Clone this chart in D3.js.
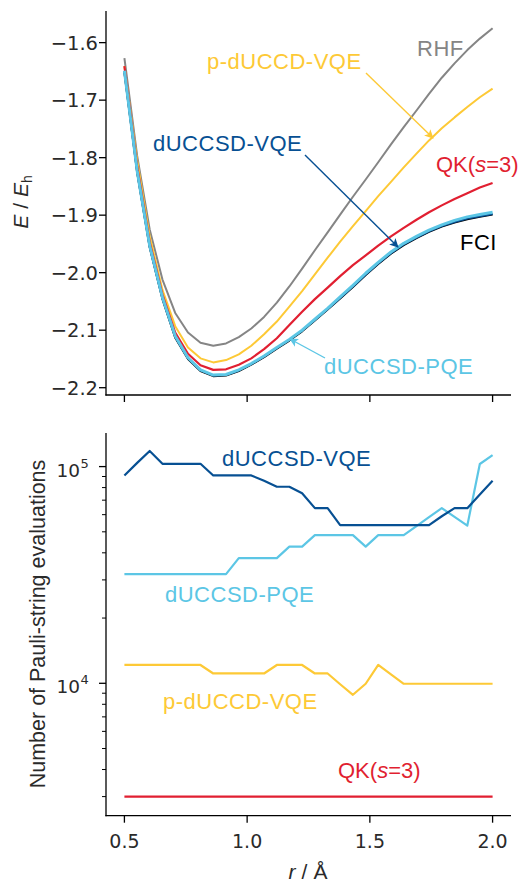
<!DOCTYPE html>
<html><head><meta charset="utf-8">
<script src="https://cdn.jsdelivr.net/npm/d3@7"></script>
<style>
html,body{margin:0;padding:0;background:#fff;}
svg text{font-family:"Liberation Sans",Arial,Helvetica,sans-serif;}
svg text.tick{font-family:"DejaVu Sans","Liberation Sans",sans-serif;}
</style></head>
<body>
<svg id="c" width="524" height="884"></svg>
<script>
// ---- data ----
const r = [0.5,0.552,0.603,0.655,0.707,0.759,0.810,0.862,0.914,0.966,1.017,1.069,1.121,1.172,1.224,1.276,1.328,1.379,1.431,1.483,1.534,1.586,1.638,1.690,1.741,1.793,1.845,1.897,1.948,2.0];

const eRHF   = [-1.627,-1.797,-1.925,-2.012,-2.070,-2.104,-2.122,-2.127,-2.123,-2.112,-2.097,-2.077,-2.052,-2.024,-1.993,-1.961,-1.930,-1.899,-1.868,-1.838,-1.808,-1.777,-1.747,-1.718,-1.689,-1.661,-1.636,-1.613,-1.593,-1.575];
const ePdUCCD= [-1.641,-1.805,-1.937,-2.030,-2.093,-2.130,-2.149,-2.156,-2.152,-2.142,-2.127,-2.107,-2.085,-2.059,-2.032,-2.003,-1.974,-1.946,-1.919,-1.893,-1.867,-1.842,-1.817,-1.793,-1.770,-1.749,-1.730,-1.712,-1.695,-1.680];
const eQK    = [-1.641,-1.815,-1.947,-2.038,-2.104,-2.141,-2.161,-2.169,-2.168,-2.160,-2.149,-2.133,-2.114,-2.091,-2.068,-2.046,-2.026,-2.006,-1.987,-1.970,-1.953,-1.937,-1.922,-1.908,-1.895,-1.883,-1.872,-1.862,-1.852,-1.844];
const eFCI   = [-1.652,-1.826,-1.956,-2.046,-2.113,-2.150,-2.171,-2.180,-2.179,-2.171,-2.160,-2.147,-2.132,-2.118,-2.102,-2.083,-2.064,-2.045,-2.025,-2.004,-1.985,-1.967,-1.952,-1.940,-1.929,-1.920,-1.913,-1.907,-1.903,-1.899];
const eVQE   = [-1.651,-1.825,-1.955,-2.045,-2.112,-2.149,-2.170,-2.179,-2.178,-2.170,-2.159,-2.146,-2.131,-2.117,-2.101,-2.082,-2.063,-2.044,-2.024,-2.003,-1.984,-1.966,-1.951,-1.939,-1.928,-1.919,-1.912,-1.906,-1.902,-1.898];
const ePQE   = [-1.649,-1.823,-1.953,-2.043,-2.110,-2.148,-2.169,-2.178,-2.177,-2.169,-2.158,-2.145,-2.130,-2.116,-2.100,-2.081,-2.062,-2.042,-2.022,-2.001,-1.982,-1.964,-1.949,-1.937,-1.926,-1.917,-1.909,-1.903,-1.899,-1.895];

const nVQE    = [91000,104000,118000,103000,103000,103000,103000,91000,91000,91000,91000,86000,80700,80700,75300,64300,64300,53700,53700,53700,53700,53700,53700,53700,53700,59000,64300,64300,74400,86000];
const nPQE    = [31900,31900,31900,31900,31900,31900,31900,31900,31900,37800,37800,37800,37800,42700,42700,48300,48300,48300,48300,42700,48300,48300,48300,53100,58400,64300,58600,53400,102800,113000];
const nPdUCCD = [12150,12150,12150,12150,12150,12150,12150,11100,11100,11100,11100,11100,12150,12150,12150,11100,11100,9900,8850,9950,12150,11000,9950,9950,9950,9950,9950,9950,9950,9950];
const nQK     = [3000,3000,3000,3000,3000,3000,3000,3000,3000,3000,3000,3000,3000,3000,3000,3000,3000,3000,3000,3000,3000,3000,3000,3000,3000,3000,3000,3000,3000,3000];

const xTicks = [0.5,1.0,1.5,2.0];
const xTickLabels = ["0.5","1.0","1.5","2.0"];
const eTicks = [-2.2,-2.1,-2.0,-1.9,-1.8,-1.7,-1.6];
const eTickLabels = ["\u22122.2","\u22122.1","\u22122.0","\u22121.9","\u22121.8","\u22121.7","\u22121.6"];
const nMajor = [1e4,1e5];
const nMajorExp = ["4","5"];
const nMinor = [3000,4000,5000,6000,7000,8000,9000,20000,30000,40000,50000,60000,70000,80000,90000];

// ---- colours ----
const C = {rhf:"#858585", pd:"#fdc936", qk:"#e11f31", fci:"#000000", vqe:"#075093", pqe:"#5cc6e5"};
const TXT = "#2a2a2a";

const svg = d3.select("#c");
const L = 106, R = 511;
const x = d3.scaleLinear().domain([0.425,2.075]).range([L,R]);
const yE = d3.scaleLinear().domain([-2.2127,-1.545]).range([395,11]);
const yN = d3.scaleLog().domain([Math.pow(10,3.389),Math.pow(10,5.155)]).range([815.7,433]);

function drawLine(ys, yScale, color, w){
  const line = d3.line().x((d,i)=>x(r[i])).y(d=>yScale(d));
  svg.append("path").datum(ys).attr("d",line).attr("fill","none")
    .attr("stroke",color).attr("stroke-width",w).attr("stroke-linejoin","round").attr("stroke-linecap","butt");
}

// ---- top panel ----
drawLine(eRHF, yE, C.rhf, 2);
drawLine(ePdUCCD, yE, C.pd, 2);
drawLine(eQK, yE, C.qk, 2.2);
drawLine(eFCI, yE, C.fci, 2);
drawLine(eVQE, yE, C.vqe, 2);
drawLine(ePQE, yE, C.pqe, 3);

// axes top
const gTop = svg.append("g");
gTop.append("line").attr("x1",L).attr("x2",L).attr("y1",11).attr("y2",395.6).attr("stroke","#000").attr("stroke-width",1.3);
gTop.append("line").attr("x1",L-0.6).attr("x2",R).attr("y1",395).attr("y2",395).attr("stroke","#000").attr("stroke-width",1.3);
eTicks.forEach((t,i)=>{
  const yy = yE(t);
  gTop.append("line").attr("x1",L-7).attr("x2",L).attr("y1",yy).attr("y2",yy).attr("stroke","#000").attr("stroke-width",1.3);
  gTop.append("text").attr("class","tick").attr("x",98).attr("y",yy+7).attr("text-anchor","end")
    .attr("font-size",19.5).attr("fill",TXT).text(eTickLabels[i]);
});
xTicks.forEach(t=>{
  gTop.append("line").attr("x1",x(t)).attr("x2",x(t)).attr("y1",395).attr("y2",402).attr("stroke","#000").attr("stroke-width",1.3);
});
// y label top
const ylt = svg.append("text").attr("transform","translate(28,202) rotate(-90)").attr("text-anchor","middle")
  .attr("font-size",21).attr("fill",TXT);
ylt.append("tspan").attr("font-style","italic").text("E");
ylt.append("tspan").attr("dx",6).text("/");
ylt.append("tspan").attr("dx",6).attr("font-style","italic").text("E");
ylt.append("tspan").attr("font-size",14).attr("dy",4).text("h");

// ---- bottom panel ----
drawLine(nQK, yN, C.qk, 2.2);
drawLine(nPdUCCD, yN, C.pd, 2.2);
drawLine(nPQE, yN, C.pqe, 2.2);
drawLine(nVQE, yN, C.vqe, 2.2);

const gB = svg.append("g");
gB.append("line").attr("x1",L).attr("x2",L).attr("y1",433).attr("y2",816.3).attr("stroke","#000").attr("stroke-width",1.3);
gB.append("line").attr("x1",L-0.6).attr("x2",R).attr("y1",815.7).attr("y2",815.7).attr("stroke","#000").attr("stroke-width",1.3);
nMajor.forEach((t,i)=>{
  const yy = yN(t);
  gB.append("line").attr("x1",L-7).attr("x2",L).attr("y1",yy).attr("y2",yy).attr("stroke","#000").attr("stroke-width",1.3);
  gB.append("text").attr("class","tick").attr("x",80).attr("y",yy+10).attr("text-anchor","end").attr("font-size",18.5).attr("fill",TXT).text("10");
  gB.append("text").attr("class","tick").attr("x",80.5).attr("y",yy+1).attr("text-anchor","start").attr("font-size",13).attr("fill",TXT).text(nMajorExp[i]);
});
nMinor.forEach(t=>{
  gB.append("line").attr("x1",L-4).attr("x2",L).attr("y1",yN(t)).attr("y2",yN(t)).attr("stroke","#000").attr("stroke-width",1);
});
xTicks.forEach((t,i)=>{
  gB.append("line").attr("x1",x(t)).attr("x2",x(t)).attr("y1",815.7).attr("y2",822.7).attr("stroke","#000").attr("stroke-width",1.3);
  gB.append("text").attr("class","tick").attr("x",x(t)).attr("y",848).attr("text-anchor","middle").attr("font-size",19).attr("fill",TXT).text(xTickLabels[i]);
});
svg.append("text").attr("transform","translate(45,624) rotate(-90)").attr("text-anchor","middle")
  .attr("font-size",21.5).attr("fill",TXT).text("Number of Pauli-string evaluations");
const xl = svg.append("text").attr("x",308).attr("y",879).attr("text-anchor","middle").attr("font-size",21).attr("fill",TXT);
xl.append("tspan").attr("font-style","italic").text("r");
xl.append("tspan").attr("dx",6).text("/");
xl.append("tspan").attr("dx",6).text("Å");

// ---- annotations ----
const defs = svg.append("defs");
function marker(id,color){
  defs.append("marker").attr("id",id).attr("viewBox","0 0 10 10").attr("refX",9).attr("refY",5)
    .attr("markerWidth",9).attr("markerHeight",9).attr("markerUnits","userSpaceOnUse").attr("orient","auto")
    .append("path").attr("d","M0,0 L10,5 L0,10 L2.5,5 Z").attr("fill",color);
}
marker("mpd",C.pd); marker("mvqe",C.vqe); marker("mpqe",C.pqe);
function arrow(x1,y1,x2,y2,color,id){
  svg.append("line").attr("x1",x1).attr("y1",y1).attr("x2",x2).attr("y2",y2)
    .attr("stroke",color).attr("stroke-width",1.4).attr("marker-end",`url(#${id})`);
}
function label(tx,ty,str,color){
  svg.append("text").attr("x",tx).attr("y",ty).attr("font-size",22).attr("letter-spacing",0.5).attr("fill",color).text(str);
}
function qkLabel(tx,ty){
  const t = svg.append("text").attr("x",tx).attr("y",ty).attr("font-size",22).attr("fill",C.qk);
  t.append("tspan").text("QK(");
  t.append("tspan").attr("font-style","italic").text("s");
  t.append("tspan").text("=3)");
}
label(417,56,"RHF",C.rhf);
label(207,69,"p-dUCCD-VQE",C.pd);
arrow(366,73,433,138,C.pd,"mpd");
label(153,151,"dUCCSD-VQE",C.vqe);
arrow(305,155,398,247,C.vqe,"mvqe");
qkLabel(436,172);
label(460,249.5,"FCI",C.fci);
label(324,374,"dUCCSD-PQE",C.pqe);
arrow(325,358,290,339,C.pqe,"mpqe");

label(222,466,"dUCCSD-VQE",C.vqe);
label(165,602,"dUCCSD-PQE",C.pqe);
label(163,709,"p-dUCCD-VQE",C.pd);
qkLabel(338,778);
</script>
</body></html>
